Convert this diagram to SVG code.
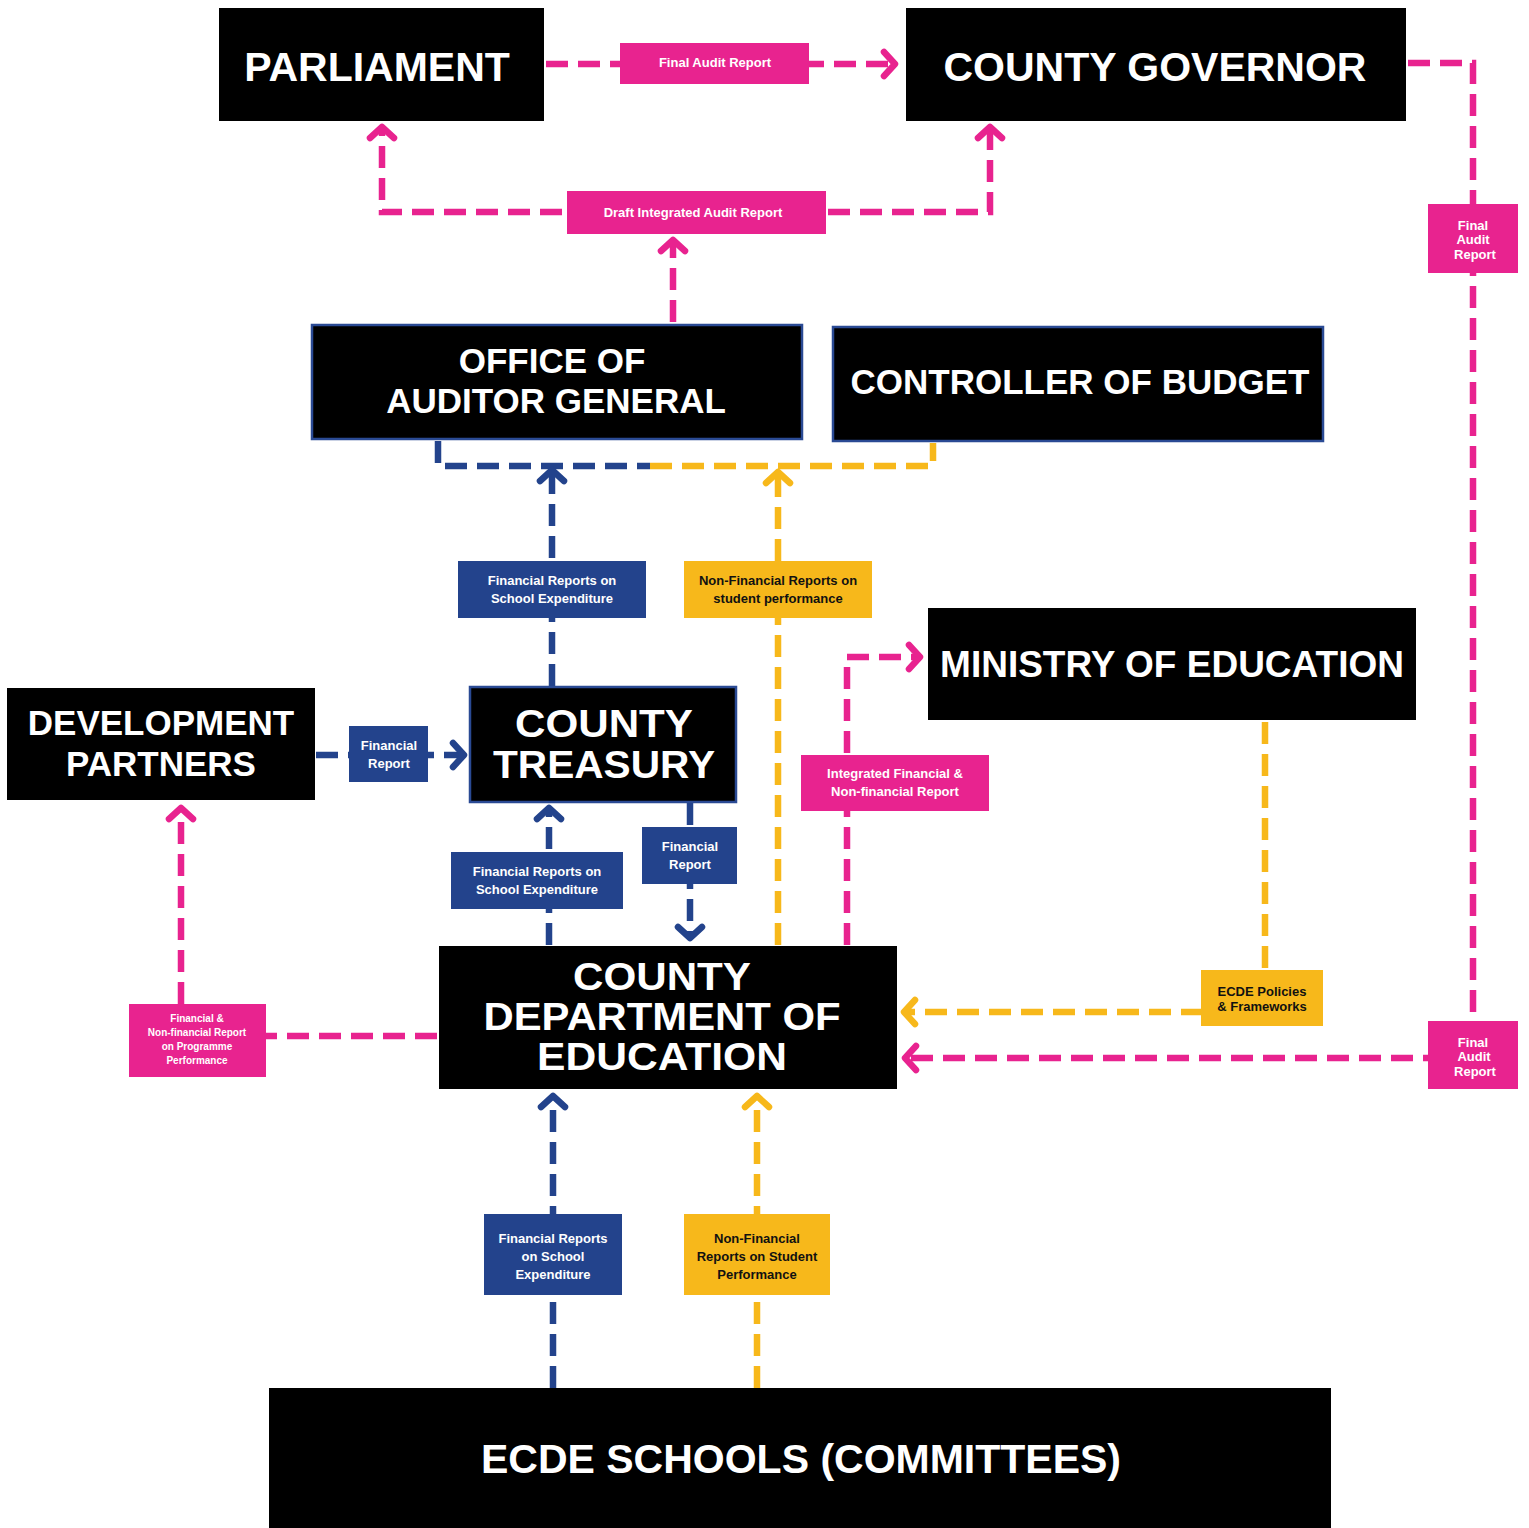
<svg xmlns="http://www.w3.org/2000/svg" width="1529" height="1528" viewBox="0 0 1529 1528">
<defs>
<style>
.node{fill:#000}
.nb{stroke:#2a4a94;stroke-width:2.5}
.big{font-family:"Liberation Sans",Arial,sans-serif;font-weight:bold;fill:#fff;text-anchor:middle}
.lbl{font-family:"Liberation Sans",Arial,sans-serif;font-weight:bold;font-size:13px;text-anchor:middle}
.sm{font-size:10px}
.w{fill:#fff}
.k{fill:#111}
.pk{fill:#e8238f}
.bl{fill:#23438c}
.ye{fill:#f7b81b}
.c{fill:none;stroke-width:6.5;stroke-dasharray:22 10}
.cp{stroke:#e8238f}
.cb{stroke:#23438c}
.cy{stroke:#f7b81b}
</style>
<marker id="ap" markerUnits="userSpaceOnUse" markerWidth="40" markerHeight="40" viewBox="-20 -20 40 40" refX="0" refY="0" orient="auto" overflow="visible"><path d="M-11,-12 L0,0 L-11,12" fill="none" stroke="#e8238f" stroke-width="6.5" stroke-linecap="round" stroke-linejoin="round"/></marker>
<marker id="ab" markerUnits="userSpaceOnUse" markerWidth="40" markerHeight="40" viewBox="-20 -20 40 40" refX="0" refY="0" orient="auto" overflow="visible"><path d="M-11,-12 L0,0 L-11,12" fill="none" stroke="#23438c" stroke-width="6.5" stroke-linecap="round" stroke-linejoin="round"/></marker>
<marker id="ay" markerUnits="userSpaceOnUse" markerWidth="40" markerHeight="40" viewBox="-20 -20 40 40" refX="0" refY="0" orient="auto" overflow="visible"><path d="M-11,-12 L0,0 L-11,12" fill="none" stroke="#f7b81b" stroke-width="6.5" stroke-linecap="round" stroke-linejoin="round"/></marker>
</defs>
<rect width="1529" height="1528" fill="#fff"/>

<g id="connectors">
<path class="c cp" d="M546,64 H895" marker-end="url(#ap)"/>
<path class="c cp" d="M673,322 V240" marker-end="url(#ap)"/>
<path class="c cp" d="M690,212 H382 V127" marker-end="url(#ap)"/>
<path class="c cp" d="M700,212 H990 V127" marker-end="url(#ap)"/>
<path class="c cp" d="M1408,63 H1473 V1058 H905" marker-end="url(#ap)"/>
<path class="c cb" d="M438,441 V466 H650"/>
<path class="c cy" d="M650,466 H933 V443"/>
<path class="c cb" d="M552,686 V470" marker-end="url(#ab)"/>
<path class="c cy" d="M778,945 V472" marker-end="url(#ay)"/>
<path class="c cb" d="M316,755 H464" marker-end="url(#ab)"/>
<path class="c cb" d="M549,945 V808" marker-end="url(#ab)"/>
<path class="c cb" d="M690,803 V938" marker-end="url(#ab)"/>
<path class="c cp" d="M847,945 V657 H920" marker-end="url(#ap)"/>
<path class="c cy" d="M1265,722 V1012 H904" marker-end="url(#ay)"/>
<path class="c cp" d="M437,1036 H181 V808" marker-end="url(#ap)"/>
<path class="c cb" d="M553,1388 V1096" marker-end="url(#ab)"/>
<path class="c cy" d="M757,1388 V1096" marker-end="url(#ay)"/>
</g>

<g id="parliament"><rect class="node" x="219" y="8" width="325" height="113"/><text class="big" x="377" y="81" font-size="41">PARLIAMENT</text></g>
<g id="county-governor"><rect class="node" x="906" y="8" width="500" height="113"/><text class="big" x="1155" y="81" font-size="41">COUNTY GOVERNOR</text></g>
<g id="auditor-general"><rect class="node nb" x="312" y="325" width="490" height="114"/><text class="big" x="552" y="373" font-size="35">OFFICE OF</text><text class="big" x="556" y="413" font-size="35">AUDITOR GENERAL</text></g>
<g id="controller-of-budget"><rect class="node nb" x="833" y="327" width="490" height="114"/><text class="big" x="1080" y="394" font-size="35">CONTROLLER OF BUDGET</text></g>
<g id="ministry-of-education"><rect class="node" x="928" y="608" width="488" height="112"/><text class="big" x="1172" y="677" font-size="37">MINISTRY OF EDUCATION</text></g>
<g id="development-partners"><rect class="node" x="7" y="688" width="308" height="112"/><text class="big" x="161" y="735" font-size="35">DEVELOPMENT</text><text class="big" x="161" y="776" font-size="35">PARTNERS</text></g>
<g id="county-treasury"><rect class="node nb" x="470" y="687" width="266" height="115"/><text class="big" x="604" y="737" font-size="39" textLength="178" lengthAdjust="spacingAndGlyphs">COUNTY</text><text class="big" x="604" y="778" font-size="39" textLength="222" lengthAdjust="spacingAndGlyphs">TREASURY</text></g>
<g id="county-department-of-education"><rect class="node" x="439" y="946" width="458" height="143"/><text class="big" x="662" y="990" font-size="38" textLength="178" lengthAdjust="spacingAndGlyphs">COUNTY</text><text class="big" x="662" y="1030" font-size="38" textLength="357" lengthAdjust="spacingAndGlyphs">DEPARTMENT OF</text><text class="big" x="662" y="1070" font-size="38" textLength="250" lengthAdjust="spacingAndGlyphs">EDUCATION</text></g>
<g id="ecde-schools"><rect class="node" x="269" y="1388" width="1062" height="140"/><text class="big" x="801" y="1473" font-size="41">ECDE SCHOOLS (COMMITTEES)</text></g>

<g id="label-final-audit-top"><rect class="pk" x="620" y="43" width="189" height="41"/><text class="lbl w" x="715" y="67">Final Audit Report</text></g>
<g id="label-draft-integrated"><rect class="pk" x="567" y="191" width="259" height="43"/><text class="lbl w" x="693" y="217">Draft Integrated Audit Report</text></g>
<g id="label-final-audit-right-top"><rect class="pk" x="1428" y="204" width="90" height="69"/><text class="lbl w" x="1473" y="230">Final</text><text class="lbl w" x="1473" y="244">Audit</text><text class="lbl w" x="1475" y="259">Report</text></g>
<g id="label-fin-oag"><rect class="bl" x="458" y="561" width="188" height="57"/><text class="lbl w" x="552" y="585">Financial Reports on</text><text class="lbl w" x="552" y="603">School Expenditure</text></g>
<g id="label-nonfin-oag"><rect class="ye" x="684" y="561" width="188" height="57"/><text class="lbl k" x="778" y="585">Non-Financial Reports on</text><text class="lbl k" x="778" y="603">student performance</text></g>
<g id="label-integrated"><rect class="pk" x="801" y="755" width="188" height="56"/><text class="lbl w" x="895" y="778">Integrated Financial &amp;</text><text class="lbl w" x="895" y="796">Non-financial Report</text></g>
<g id="label-fin-dp"><rect class="bl" x="349" y="726" width="79" height="56"/><text class="lbl w" x="389" y="750">Financial</text><text class="lbl w" x="389" y="768">Report</text></g>
<g id="label-fin-ct"><rect class="bl" x="451" y="852" width="172" height="57"/><text class="lbl w" x="537" y="876">Financial Reports on</text><text class="lbl w" x="537" y="894">School Expenditure</text></g>
<g id="label-fin-cde"><rect class="bl" x="642" y="827" width="95" height="57"/><text class="lbl w" x="690" y="851">Financial</text><text class="lbl w" x="690" y="869">Report</text></g>
<g id="label-programme"><rect class="pk" x="129" y="1004" width="137" height="73"/><text class="lbl sm w" x="197" y="1022">Financial &amp;</text><text class="lbl sm w" x="197" y="1036">Non-financial Report</text><text class="lbl sm w" x="197" y="1050">on Programme</text><text class="lbl sm w" x="197" y="1064">Performance</text></g>
<g id="label-ecde-policies"><rect class="ye" x="1201" y="970" width="122" height="56"/><text class="lbl k" x="1262" y="996">ECDE Policies</text><text class="lbl k" x="1262" y="1011">&amp; Frameworks</text></g>
<g id="label-final-audit-right-bottom"><rect class="pk" x="1428" y="1021" width="90" height="68"/><text class="lbl w" x="1473" y="1047">Final</text><text class="lbl w" x="1474" y="1061">Audit</text><text class="lbl w" x="1475" y="1076">Report</text></g>
<g id="label-fin-schools"><rect class="bl" x="484" y="1214" width="138" height="81"/><text class="lbl w" x="553" y="1243">Financial Reports</text><text class="lbl w" x="553" y="1261">on School</text><text class="lbl w" x="553" y="1279">Expenditure</text></g>
<g id="label-nonfin-schools"><rect class="ye" x="684" y="1214" width="146" height="81"/><text class="lbl k" x="757" y="1243">Non-Financial</text><text class="lbl k" x="757" y="1261">Reports on Student</text><text class="lbl k" x="757" y="1279">Performance</text></g>
</svg>
